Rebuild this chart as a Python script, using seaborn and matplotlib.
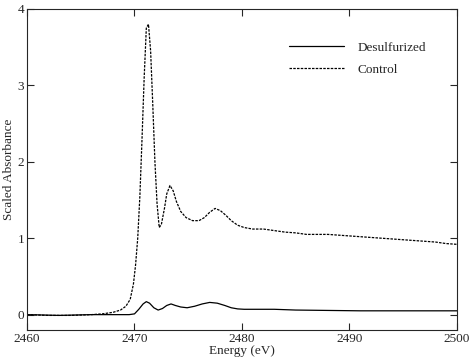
import numpy as np
import pandas as pd
import seaborn as sns
import matplotlib.pyplot as plt

# Values
energy_control = [2460, 2462, 2464, 2466, 2467, 2468, 2468.7, 2469.2, 2469.6, 2469.9,
                  2470.1, 2470.3, 2470.5, 2470.7, 2470.9, 2471.1, 2471.3, 2471.5, 2471.7,
                  2471.9, 2472.1, 2472.3, 2472.5, 2472.8, 2473.0, 2473.3, 2473.6, 2473.9,
                  2474.3, 2474.8, 2475.4, 2476.0, 2476.5, 2477.0, 2477.5, 2478.0, 2478.5,
                  2479.0, 2479.6, 2480.2, 2481, 2482, 2483, 2484, 2485, 2486, 2487,
                  2488, 2489, 2490, 2491, 2492, 2493, 2494, 2495, 2496, 2497, 2498,
                  2499, 2500]
absorb_control = [0.0, -0.01, -0.01, 0.0, 0.01, 0.03, 0.06, 0.11, 0.2, 0.4,
                  0.65, 1.0, 1.55, 2.3, 3.1, 3.75, 3.8, 3.45, 2.75,
                  2.0, 1.45, 1.14, 1.18, 1.4, 1.58, 1.69, 1.62, 1.48,
                  1.35, 1.27, 1.23, 1.23, 1.27, 1.34, 1.39, 1.36, 1.3,
                  1.23, 1.17, 1.14, 1.12, 1.12, 1.1, 1.08, 1.07, 1.05, 1.05,
                  1.05, 1.04, 1.03, 1.02, 1.01, 1.0, 0.99, 0.98, 0.97, 0.96, 0.95,
                  0.93, 0.92]

energy_desulf = [2460, 2463, 2466, 2468, 2469.5, 2470.0, 2470.4, 2470.8, 2471.1, 2471.4,
                 2471.8, 2472.2, 2472.6, 2473.0, 2473.4, 2473.8, 2474.3, 2474.9, 2475.6,
                 2476.3, 2477.0, 2477.7, 2478.4, 2479.0, 2479.6, 2480.2, 2481, 2483,
                 2485, 2488, 2491, 2494, 2497, 2500]
absorb_desulf = [0.0, -0.01, 0.0, 0.0, 0.0, 0.01, 0.07, 0.14, 0.17, 0.15,
                 0.09, 0.06, 0.08, 0.12, 0.14, 0.12, 0.1, 0.09, 0.11,
                 0.14, 0.16, 0.15, 0.12, 0.09, 0.075, 0.07, 0.07, 0.07,
                 0.06, 0.055, 0.05, 0.05, 0.05, 0.05]

sns.set_style("ticks")
plt.rcParams['font.family'] = ['Liberation Serif', 'DejaVu Serif']
plt.rcParams['font.size'] = 9.5

fig = plt.figure(figsize=(4.74, 3.59), dpi=100)
ax = fig.add_axes([0.057, 0.081, 0.907, 0.894])

sns.lineplot(x=energy_desulf, y=absorb_desulf, color='black', lw=0.9,
             label='Desulfurized', ax=ax)
sns.lineplot(x=energy_control, y=absorb_control, color='black', lw=0.9,
             ls=(0, (2, 1)), label='Control', ax=ax)

ax.set_xlim(2460, 2500)
ax.set_ylim(-0.2, 4)
ax.set_xticks([2460, 2470, 2480, 2490, 2500])
ax.set_yticks([0, 1, 2, 3, 4])
ax.tick_params(direction='in', top=True, right=True, length=5, width=0.8,
               labelsize=9.5, pad=2)
for s in ax.spines.values():
    s.set_linewidth(0.8)

ax.set_xlabel('Energy (eV)', fontsize=9.5, labelpad=0)
ax.set_ylabel('Scaled Absorbance', fontsize=9.5, labelpad=2)

ax.legend(frameon=False, loc='upper right', bbox_to_anchor=(0.955, 0.935),
          handlelength=4.2, handletextpad=1.0, labelspacing=0.75, fontsize=9.5)

fig.savefig('out.png', dpi=100)
